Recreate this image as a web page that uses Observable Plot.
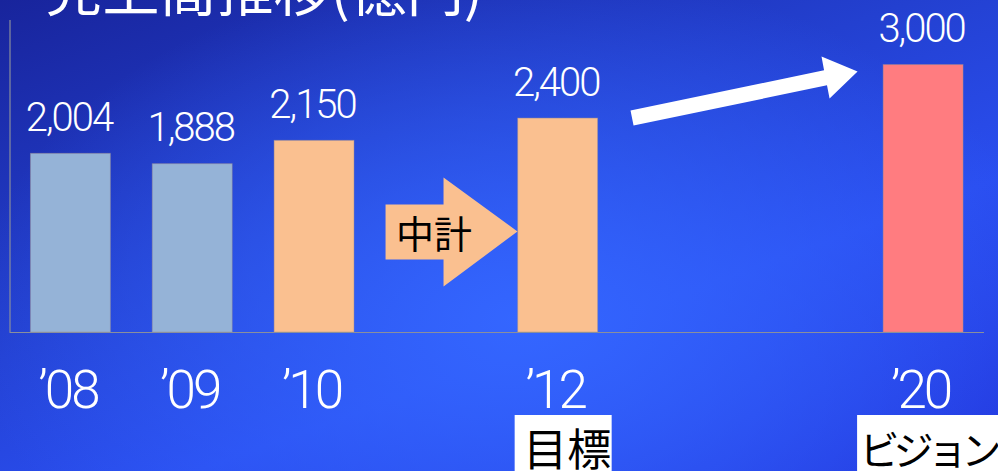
<!DOCTYPE html>
<html>
<head>
<meta charset="utf-8">
<script src="https://cdn.jsdelivr.net/npm/d3@7"></script>
<script src="https://cdn.jsdelivr.net/npm/@observablehq/plot@0.6"></script>
<style>
  html, body { margin: 0; padding: 0; }
  body {
    width: 998px; height: 471px; overflow: hidden;
    background:
      radial-gradient(ellipse 55% 75% at 52% 68%, rgba(52,102,255,1) 0%, rgba(52,102,255,0) 100%),
      linear-gradient(160deg, #18249c 0%, #2340d0 40%, #2a4ef0 65%, #2236de 100%);
  }
  #chart svg { display: block; }
</style>
</head>
<body>
<div id="chart"></div>
<script>
// ---- data ----
const title = "売上高推移(億円)";
const years = ["’08", "’09", "’10", "’12", "’20"];
const slots = [0, 1, 2, 4, 7];            // category slot on the horizontal axis (gaps for skipped years)
const sales = [2004, 1888, 2150, 2400, 3000];
const barColors = ["#95b3d7", "#95b3d7", "#fac090", "#fac090", "#ff7c80"];

// annotations (data units: slot, 億円)
const planArrowX = [2.583, 3.059, 3.059, 3.666, 3.059, 3.059, 2.583];
const planArrowY = [1436, 1436, 1739, 1133, 516, 819, 819];
const planLabel = "中計";
const planLabelPos = { x: 2.98, y: 1085 };
const visionArrowX = [4.594, 6.183, 6.162, 6.458, 6.228, 6.207, 4.619];
const visionArrowY = [2490, 2941, 3096, 2928, 2625, 2773, 2322];
const boxLabels = ["目標", "ビジョン"];

// ---- build ----
const bars = years.map((y, i) => ({ year: y, slot: slots[i], value: sales[i], color: barColors[i] }));
const planPoly = planArrowX.map((x, i) => ({ x, y: planArrowY[i] }));
const visionPoly = visionArrowX.map((x, i) => ({ x, y: visionArrowY[i] }));
const half = 0.328;
const jp = "'Noto Sans CJK JP', 'Noto Sans', sans-serif";
const num = "Roboto, 'Noto Sans CJK JP', sans-serif";

const chart = Plot.plot({
  width: 998,
  height: 471,
  marginTop: 20,
  marginBottom: 139,
  marginLeft: 9.5,
  marginRight: 14,
  style: { background: "transparent", fontFamily: jp, overflow: "visible" },
  x: { type: "linear", domain: [-0.5, 7.5], axis: null },
  y: { domain: [0, 3500], axis: null },
  marks: [
    Plot.rectY(bars, {
      x1: d => d.slot - half, x2: d => d.slot + half, y: "value",
      fill: "color", stroke: "#a09090", strokeOpacity: 0.45, strokeWidth: 1
    }),
    Plot.ruleX([-0.5], { stroke: "#8a8f9c", strokeWidth: 1.2 }),
    Plot.ruleY([0], { x1: -0.5, x2: 7.5, stroke: "#8a8f9c", strokeWidth: 1.2 }),
    Plot.text(bars, {
      x: "slot", y: "value", text: d => d3.format(",")(d.value),
      fill: "white", fontSize: 40, fontFamily: num, fontWeight: 300,
      lineAnchor: "bottom", dy: -23, dx: -2, textAnchor: "middle"
    }),
    Plot.axisX({
      ticks: slots, tickFormat: s => years[slots.indexOf(s)],
      tickSize: 0, tickPadding: 38, fontSize: 53, fontFamily: num, fontWeight: 300,
      dx: -3, color: "white", fill: "white", anchor: "bottom"
    }),
    // plan arrow
    Plot.line(planPoly, { x: "x", y: "y", fill: "#fac090", stroke: "none", curve: "linear-closed" }),
    Plot.text([planLabelPos], { x: "x", y: "y", text: () => planLabel, fill: "black", fontSize: 38, textAnchor: "middle" }),
    // vision arrow
    Plot.line(visionPoly, { x: "x", y: "y", fill: "white", stroke: "none", curve: "linear-closed" }),
    // label boxes under the plan/vision years
    Plot.rect([bars[3]], { x1: "slot", x2: "slot", y1: 0, y2: 0, fill: "white",
      insetLeft: -43, insetRight: -54, insetTop: 83, insetBottom: -150 }),
    Plot.text([bars[3]], { x: "slot", y: 0, text: () => boxLabels[0], fill: "black", fontSize: 44,
      textAnchor: "start", lineAnchor: "bottom", dx: -35, dy: 133 }),
    Plot.rect([bars[4]], { x1: "slot", x2: "slot", y1: 0, y2: 0, fill: "white",
      insetLeft: -66, insetRight: -120, insetTop: 83, insetBottom: -150 }),
    Plot.text([bars[4]], { x: "slot", y: 0, text: () => boxLabels[1], fill: "black", fontSize: 40,
      textAnchor: "start", lineAnchor: "bottom", dx: -64, dy: 132 }),
    // title (top part runs off the top of the picture)
    Plot.text([title], { frameAnchor: "top-left", text: d => d, fill: "white", fontSize: 57,
      textAnchor: "start", lineAnchor: "bottom", dx: 35.5, dy: -10 })
  ]
});
// tighten letter spacing to match the narrow original typeface
d3.select(chart).selectAll("text").each(function () {
  const t = this.textContent;
  if (/^\d,\d{3}$/.test(t)) this.setAttribute("letter-spacing", "-2");
  else if (t.startsWith("’")) this.setAttribute("letter-spacing", "-3");
  else if (t === boxLabels[1]) this.setAttribute("letter-spacing", "-6");
});
document.getElementById("chart").appendChild(chart);
</script>
</body>
</html>
